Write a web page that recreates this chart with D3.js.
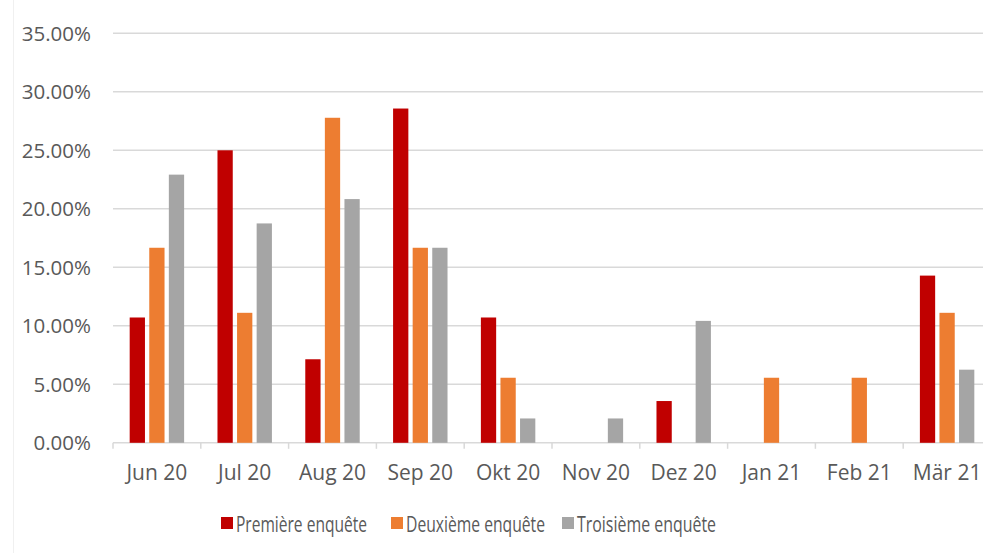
<!DOCTYPE html>
<html lang="de">
  <head>
    <meta charset="UTF-8" />
    <title>Enquêtes</title>
    <script src="https://cdn.jsdelivr.net/npm/d3@7"></script>
    <style>
      body { margin: 0; background: #fff; }
      svg { display: block; font-family: "Open Sans", sans-serif; }
      .lbl { fill: #595959; }
    </style>
  </head>
  <body>
    <div class="chart"></div>
    <script>
      // values in percent
      const months = ["Jun 20", "Jul 20", "Aug 20", "Sep 20", "Okt 20", "Nov 20", "Dez 20", "Jan 21", "Feb 21", "Mär 21"];
      const seriesNames = ["Première enquête", "Deuxième enquête", "Troisième enquête"];
      const premiere = [10.71, 25.00, 7.14, 28.57, 10.71, 0, 3.57, 0, 0, 14.29];
      const deuxieme = [16.67, 11.11, 27.78, 16.67, 5.56, 0, 0, 5.56, 5.56, 11.11];
      const troisieme = [22.92, 18.75, 20.83, 16.67, 2.08, 2.08, 10.42, 0, 0, 6.25];
      const yTicks = [0, 5, 10, 15, 20, 25, 30, 35];
      const colors = ["#C00000", "#ED7D31", "#A5A5A5"];

      const width = 983, height = 553;
      const svg = d3.select(".chart").append("svg")
        .attr("width", width)
        .attr("height", height);

      // faint chart border on the left
      svg.append("line")
        .attr("x1", 13.5).attr("x2", 13.5)
        .attr("y1", 0).attr("y2", height)
        .attr("stroke", "#f0f0f0");

      const left = 113, step = 87.8;
      const x0 = d3.scaleBand()
        .domain(months)
        .range([left, left + step * months.length])
        .paddingInner(0.38)
        .paddingOuter(0.19);
      const x1 = d3.scaleBand()
        .domain(seriesNames)
        .range([0, x0.bandwidth()])
        .paddingInner(0.22);
      const y = d3.scaleLinear().domain([0, 35]).range([442.8, 33.3]);

      // gridlines
      svg.append("g")
        .selectAll("line")
        .data(yTicks)
        .enter()
        .append("line")
        .attr("x1", left)
        .attr("x2", left + step * months.length)
        .attr("y1", d => y(d))
        .attr("y2", d => y(d))
        .attr("stroke", "#d9d9d9")
        .attr("stroke-width", 1.5);

      // y labels
      svg.append("g")
        .selectAll("text")
        .data(yTicks)
        .enter()
        .append("text")
        .attr("class", "lbl")
        .attr("x", 91)
        .attr("y", d => y(d))
        .attr("dy", "0.36em")
        .attr("text-anchor", "end")
        .attr("font-size", 20.5)
        .text(d => d.toFixed(2) + "%");

      // category tick marks
      const edges = months.map(m => x0(m) - x0.step() * x0.paddingInner() / 2);
      svg.append("g")
        .selectAll("line")
        .data(edges)
        .enter()
        .append("line")
        .attr("x1", d => d)
        .attr("x2", d => d)
        .attr("y1", y(0))
        .attr("y2", y(0) + 6)
        .attr("stroke", "#d9d9d9")
        .attr("stroke-width", 1.5);

      // bars
      const rows = months.map((m, i) => ({ month: m, vals: [premiere[i], deuxieme[i], troisieme[i]] }));
      const groups = svg.append("g")
        .selectAll("g")
        .data(rows)
        .enter()
        .append("g")
        .attr("transform", d => `translate(${x0(d.month)},0)`);
      groups.selectAll("rect")
        .data(d => d.vals.map((v, k) => ({ name: seriesNames[k], v: v, k: k })))
        .enter()
        .append("rect")
        .attr("x", d => x1(d.name))
        .attr("width", x1.bandwidth())
        .attr("y", d => y(d.v))
        .attr("height", d => y(0) - y(d.v))
        .attr("fill", d => colors[d.k]);

      // x labels
      svg.append("g")
        .selectAll("text")
        .data(months)
        .enter()
        .append("text")
        .attr("class", "lbl")
        .attr("x", d => x0(d) + x0.bandwidth() / 2)
        .attr("y", 480)
        .attr("text-anchor", "middle")
        .attr("font-size", 21)
        .text(d => d);

      // legend
      const legendX = [221, 391, 562];
      const legendW = [131, 139, 139];
      const legend = svg.append("g")
        .selectAll("g")
        .data(seriesNames)
        .enter()
        .append("g")
        .attr("transform", (d, i) => `translate(${legendX[i]},517)`);
      legend.append("rect")
        .attr("width", 12)
        .attr("height", 12)
        .attr("fill", (d, i) => colors[i]);
      legend.append("text")
        .attr("class", "lbl")
        .attr("x", 15)
        .attr("y", 14.5)
        .attr("font-size", 21)
        .attr("textLength", (d, i) => legendW[i])
        .attr("lengthAdjust", "spacingAndGlyphs")
        .text(d => d);
    </script>
  </body>
</html>
